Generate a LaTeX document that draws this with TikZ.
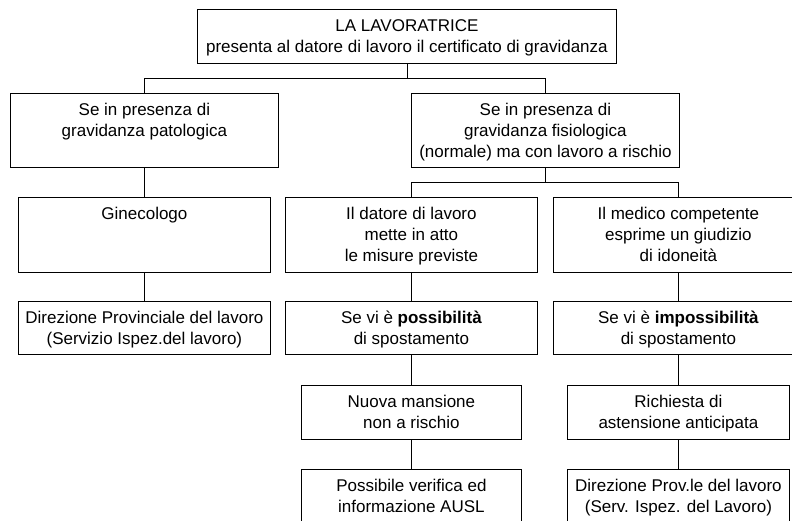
\documentclass[tikz,border=0pt]{standalone}
\usepackage{fontspec}
\setmainfont{Liberation Sans}
\newcommand{\bxtext}[3]{\parbox[b][#2][t]{#1}{\centering\rule{0pt}{22pt}#3\par}}
\tikzset{
  orgbox/.style={draw, line width=0.8pt, inner sep=0pt, anchor=north west,
    font=\fontsize{17}{21}\selectfont},
  link/.style={line width=0.8pt}
}
\begin{document}
\begin{tikzpicture}[x=1pt,y=-1pt]
\useasboundingbox (0,0) rectangle (792,521);
\clip (0,0) rectangle (792,521);
% level 0
\node[orgbox] (top) at (197,9) {\bxtext{419pt}{54pt}{LA LAVORATRICE\\presenta al datore di lavoro il certificato di gravidanza}};
% level 1
\node[orgbox] (l1l) at (10,93) {\bxtext{268pt}{74pt}{Se in presenza di\\gravidanza patologica}};
\node[orgbox] (l1r) at (411,93) {\bxtext{268pt}{74pt}{Se in presenza di\\gravidanza fisiologica\\(normale) ma con lavoro a rischio}};
% level 2
\node[orgbox] (l2a) at (18,197) {\bxtext{252pt}{75pt}{Ginecologo}};
\node[orgbox] (l2b) at (285,197) {\bxtext{252pt}{75pt}{Il datore di lavoro\\mette in atto\\le misure previste}};
\node[orgbox] (l2c) at (553,197) {\bxtext{250pt}{75pt}{Il medico competente\\esprime un giudizio\\di idoneità}};
% level 3
\node[orgbox] (l3a) at (18,301) {\bxtext{252pt}{53pt}{Direzione Provinciale del lavoro\\(Servizio Ispez.del lavoro)}};
\node[orgbox] (l3b) at (285,301) {\bxtext{252pt}{53pt}{Se vi è \textbf{possibilità}\\di spostamento}};
\node[orgbox] (l3c) at (553,301) {\bxtext{250pt}{53pt}{Se vi è \textbf{impossibilità}\\di spostamento}};
% level 4
\node[orgbox] (l4b) at (301,385) {\bxtext{220pt}{54pt}{Nuova mansione\\non a rischio}};
\node[orgbox] (l4c) at (567,385) {\bxtext{222pt}{54pt}{Richiesta di\\astensione anticipata}};
% level 5
\node[orgbox] (l5b) at (301,469) {\bxtext{220pt}{56pt}{Possibile verifica ed\\informazione AUSL}};
\node[orgbox] (l5c) at (567,469) {\bxtext{222pt}{56pt}{Direzione Prov.le del lavoro\\(Serv. Ispez. del Lavoro)}};
% connectors
\draw[link] (top.south) -- ++(0,15) coordinate (j1);
\draw[link] (j1) -| (l1l.north);
\draw[link] (j1) -| (l1r.north);
\draw[link] (l1l.south) -- (l2a.north);
\draw[link] (l1r.south) -- ++(0,15) coordinate (j2);
\draw[link] (j2) -| (l2b.north);
\draw[link] (j2) -| (l2c.north);
\draw[link] (l2a.south) -- (l3a.north);
\draw[link] (l2b.south) -- (l3b.north);
\draw[link] (l2c.south) -- (l3c.north);
\draw[link] (l3b.south) -- (l4b.north);
\draw[link] (l3c.south) -- (l4c.north);
\draw[link] (l4b.south) -- (l5b.north);
\draw[link] (l4c.south) -- (l5c.north);
\end{tikzpicture}
\end{document}
